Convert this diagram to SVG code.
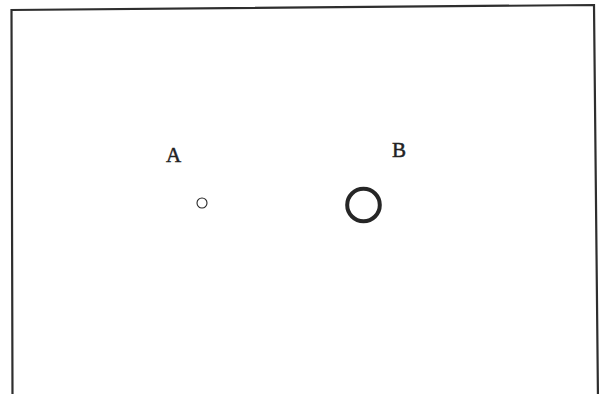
<svg xmlns="http://www.w3.org/2000/svg" width="601" height="394" viewBox="0 0 601 394">
<style>
.frame{fill:none;stroke:#2e2e2e;stroke-width:2.2}
.lbl{font-family:"Liberation Serif","DejaVu Serif",serif;font-size:21px;fill:#222;stroke:#222;stroke-width:0.5}
.ring{fill:none;stroke:#262626}
</style>
<rect width="601" height="394" fill="#fff"/>
<path class="frame" d="M12.5,400 L11.5,10 L594,5 L598,400"/>
<g id="nodeA">
<text class="lbl" x="166" y="162">A</text>
<circle class="ring" cx="202" cy="203" r="5" stroke-width="1.1"/>
</g>
<g id="nodeB">
<text class="lbl" x="392" y="157">B</text>
<circle class="ring" cx="363.5" cy="205" r="16.3" stroke-width="4"/>
</g>
<g id="connectors"></g>
</svg>
